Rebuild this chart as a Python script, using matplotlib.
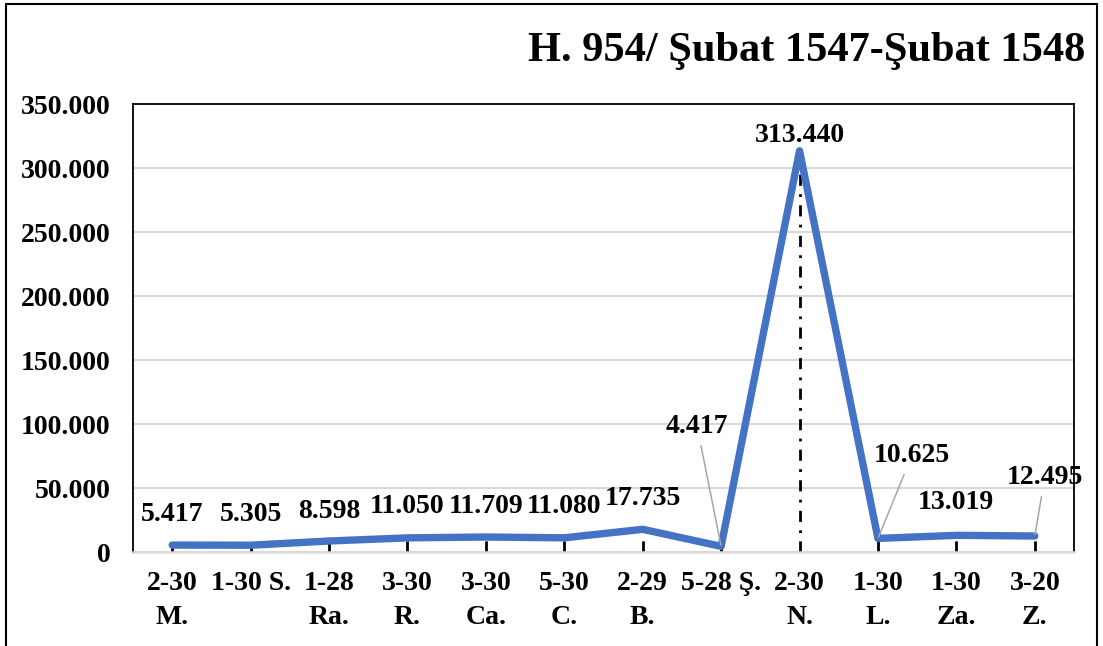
import matplotlib.pyplot as plt
from matplotlib.patches import Rectangle

plt.rcParams['font.family'] = ['Liberation Serif', 'DejaVu Serif']
plt.rcParams['font.weight'] = 'bold'

# data
months = ["2-30\nM.", "1-30 S.", "1-28\nRa.", "3-30\nR.", "3-30\nCa.", "5-30\nC.",
          "2-29\nB.", "5-28 Ş.", "2-30\nN.", "1-30\nL.", "1-30\nZa.", "3-20\nZ."]
values = [5417, 5305, 8598, 11050, 11709, 11080, 17735, 4417, 313440, 10625, 13019, 12495]
value_labels = ["5.417", "5.305", "8.598", "11.050", "11.709", "11.080",
                "17.735", "4.417", "313.440", "10.625", "13.019", "12.495"]
y_ticks = [0, 50000, 100000, 150000, 200000, 250000, 300000, 350000]
y_tick_labels = ["0", "50.000", "100.000", "150.000", "200.000", "250.000", "300.000", "350.000"]
title = "H. 954/ Şubat 1547-Şubat 1548"

# label offsets in pixels (dx, dy) and whether a leader line is drawn
offsets = [(0, 31), (0, 31), (0, 30), (0, 31), (0, 31), (0, 31),
           (0, 31), (-24, 120), (0, 15), (34, 83), (0, 33), (10, 59)]
leaders = [False] * 7 + [True, False, True, False, True]

fig = plt.figure(figsize=(11.03, 6.46), dpi=100)
ax = fig.add_axes([0.1206, 0.1455, 0.8531, 0.6935])

x = list(range(len(values)))

ax.vlines(x, 0, values, colors='black', linestyles=(0, (4, 3, 1, 3)), lw=2, zorder=2)
ax.plot(x, values, color='#4472C4', lw=5.3, solid_capstyle='round',
        solid_joinstyle='round', zorder=3)

for i in x:
    dx, dy = offsets[i]
    if leaders[i]:
        ax.annotate(value_labels[i], (i, values[i]), xytext=(dx, dy),
                    textcoords='offset pixels', ha='center', va='center',
                    fontsize=20, fontweight='bold', zorder=5,
                    arrowprops=dict(arrowstyle='-', color='#A6A6A6', lw=1.1,
                                    shrinkA=3, shrinkB=1))
    else:
        ax.annotate(value_labels[i], (i, values[i]), xytext=(dx, dy),
                    textcoords='offset pixels', ha='center', va='center',
                    fontsize=20, fontweight='bold', zorder=5)

ax.set_xlim(-0.5, len(values) - 0.5)
ax.set_ylim(0, 350000)
ax.set_yticks(y_ticks)
ax.set_yticklabels(y_tick_labels, fontsize=20, fontweight='bold')
ax.set_xticks(x)
ax.set_xticklabels(months, fontsize=20, fontweight='bold', linespacing=1.45)
ax.tick_params(axis='both', length=0)
ax.tick_params(axis='y', pad=16)
ax.tick_params(axis='x', pad=14)

ax.grid(axis='y', color='#D9D9D9', lw=1.5, zorder=0)
ax.set_axisbelow(True)
for s in ['left', 'top', 'right']:
    ax.spines[s].set_color('black')
    ax.spines[s].set_linewidth(1.3)
ax.spines['bottom'].set_color('#D9D9D9')
ax.spines['bottom'].set_linewidth(1.8)

fig.text(0.984, 0.9056, title, ha='right', va='baseline', fontsize=30.5, fontweight='bold')

fig.patches.append(Rectangle((6 / 1103, -0.05), 1091 / 1103, 1.05 - 4 / 646,
                             transform=fig.transFigure, fill=False,
                             edgecolor='black', lw=1.5))

fig.savefig('out.png', dpi=100)
